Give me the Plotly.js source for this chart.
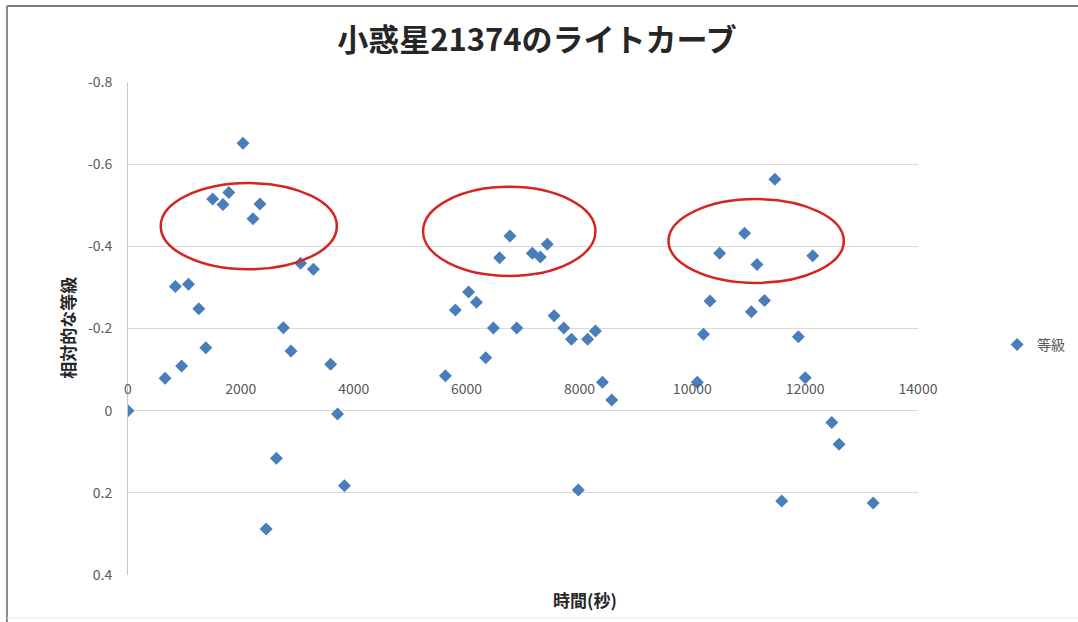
<!DOCTYPE html>
<html>
<head>
<meta charset="utf-8">
<script src="https://cdn.plot.ly/plotly-3.0.1.min.js"></script>
<style>html,body{margin:0;padding:0;background:#fff;}#chart{width:1078px;height:622px;}</style>
</head>
<body>
<div id="chart"></div>
<script>
// Data
const timeSec = [
  0, 657, 840, 950, 1072, 1255, 1379, 1500, 1683, 1787, 2038, 2215, 2338, 2448, 2630, 2753, 2888, 3058, 3285, 3591, 3713, 3836,
  5625, 5802, 6035, 6175, 6340, 6475, 6585, 6768, 6890, 7165, 7307, 7430, 7552, 7723, 7858, 7980, 8145, 8284, 8408, 8573,
  10089, 10199, 10314, 10485, 10926, 11047, 11147, 11280, 11464, 11585, 11880, 12002, 12135, 12473, 12601, 13206
];
const magnitude = [
  0, -0.079, -0.302, -0.109, -0.308, -0.248, -0.153, -0.515, -0.502, -0.531, -0.651, -0.467, -0.503, 0.288, 0.116, -0.202, -0.145, -0.359, -0.344, -0.113, 0.008, 0.183,
  -0.085, -0.245, -0.289, -0.264, -0.129, -0.201, -0.372, -0.425, -0.201, -0.383, -0.374, -0.405, -0.231, -0.201, -0.174, 0.193, -0.174, -0.194, -0.069, -0.026,
  -0.069, -0.186, -0.267, -0.383, -0.432, -0.241, -0.356, -0.268, -0.563, 0.220, -0.180, -0.080, -0.377, 0.029, 0.082, 0.225
];
const seriesName = "等級";
const chartTitle = "小惑星21374のライトカーブ";
const xTitle = "時間(秒)";
const yTitle = "相対的な等級";
const xTickVals = [0, 2000, 4000, 6000, 8000, 10000, 12000, 14000];
const xTickText = ["0", "2000", "4000", "6000", "8000", "10000", "12000", "14000"];
const yTickVals = [-0.8, -0.6, -0.4, -0.2, 0, 0.2, 0.4];
const yTickText = ["-0.8", "-0.6", "-0.4", "-0.2", "0", "0.2", "0.4"];
// highlighted groups (x range in seconds, y range in magnitude)
const groupX0 = [580, 5229, 9579];
const groupX1 = [3701, 8284, 12685];
const groupY0 = [-0.554, -0.545, -0.515];
const groupY1 = [-0.344, -0.328, -0.311];

const FONT = "'Noto Sans CJK JP', 'Noto Sans', sans-serif";

const trace = {
  type: "scatter",
  mode: "markers",
  name: seriesName,
  x: timeSec,
  y: magnitude,
  marker: {symbol: "diamond", size: 10, color: "#4a7ebb"},
  showlegend: true
};

const shapes = [];
for (let i = 0; i < groupX0.length; i++) {
  shapes.push({
    type: "circle", xref: "x", yref: "y",
    x0: groupX0[i], x1: groupX1[i], y0: groupY0[i], y1: groupY1[i],
    line: {color: "#d42424", width: 2.5}
  });
}
// outer chart frame
shapes.push({type: "line", xref: "paper", yref: "paper", x0: -0.1532, x1: 1.22, y0: 1.1542, y1: 1.1542, line: {color: "#7a7a7a", width: 2}});
shapes.push({type: "line", xref: "paper", yref: "paper", x0: -0.1532, x1: -0.1532, y0: 1.1542, y1: -0.1, line: {color: "#8a8a8a", width: 2}});
shapes.push({type: "line", xref: "paper", yref: "paper", x0: -0.1532, x1: 1.22, y0: -0.0872, y1: -0.0872, line: {color: "#e6e6e6", width: 1}});

const layout = {
  width: 1078, height: 622,
  paper_bgcolor: "#ffffff", plot_bgcolor: "#ffffff",
  margin: {l: 128, r: 160, t: 82, b: 47},
  font: {family: FONT, color: "#595959", size: 14},
  title: {
    text: chartTitle,
    font: {family: FONT, size: 31, color: "#262626", weight: "bold"},
    x: 0.5177, xref: "paper", xanchor: "center",
    y: 0.9357, yref: "container", yanchor: "middle"
  },
  xaxis: {
    range: [0, 14000],
    tickvals: xTickVals, ticktext: xTickText,
    showgrid: false, zeroline: false, showline: false,
    anchor: "free", position: 1/3, side: "top",
    ticks: "", ticklabelstandoff: 14,
    tickfont: {family: FONT, size: 14, color: "#595959"},
    automargin: false,
    fixedrange: true
  },
  yaxis: {
    range: [0.4, -0.8],
    tickvals: yTickVals, ticktext: yTickText,
    showgrid: true, gridcolor: "#d9d9d9", gridwidth: 1,
    zeroline: false, showline: true, linecolor: "#c8c8c8", linewidth: 1,
    ticks: "", ticklabelstandoff: 12,
    tickfont: {family: FONT, size: 14, color: "#595959"},
    automargin: false,
    fixedrange: true
  },
  legend: {
    xref: "container", yref: "container",
    x: 0.9249, xanchor: "left", y: 0.4453, yanchor: "middle",
    font: {family: FONT, size: 14, color: "#595959"},
    bgcolor: "rgba(0,0,0,0)"
  },
  annotations: [
    {text: xTitle, xref: "paper", yref: "paper", x: 0.5785, y: -0.0487, showarrow: false,
     xanchor: "center", yanchor: "middle", font: {family: FONT, size: 17, color: "#262626", weight: "bold"}},
    {text: yTitle, xref: "paper", yref: "paper", x: -0.0776, y: 0.501, showarrow: false, textangle: -90,
     xanchor: "center", yanchor: "middle", font: {family: FONT, size: 17, color: "#262626", weight: "bold"}}
  ],
  shapes: shapes
};

Plotly.newPlot("chart", [trace], layout, {displayModeBar: false, staticPlot: true});
</script>
</body>
</html>
